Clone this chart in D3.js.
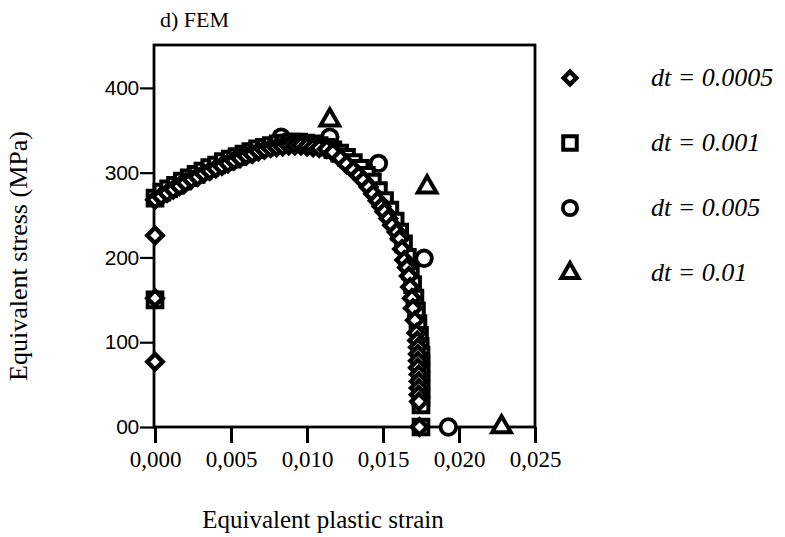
<!DOCTYPE html>
<html>
<head>
<meta charset="utf-8">
<script src="https://cdn.jsdelivr.net/npm/d3@7"></script>
<style>
  body { margin: 0; background: #fff; }
  svg { display: block; }
</style>
</head>
<body>
<svg id="chart" width="785" height="537"></svg>
<script>
const SERIF = "'Liberation Serif', 'Times New Roman', serif";

// dt = 0.0005 (diamonds), strain / stress pairs
const dt0005Strain = [0, 0, 0, 0,
  0.0004, 0.0008, 0.0012, 0.0016, 0.0020, 0.0024, 0.0028, 0.0032, 0.0036, 0.0040,
  0.0044, 0.0048, 0.0052, 0.0056, 0.0060, 0.0064, 0.0068, 0.0072, 0.0076, 0.0080,
  0.0084, 0.0088, 0.0092, 0.0096, 0.0100, 0.0104, 0.0108, 0.0113, 0.0117, 0.0122,
  0.0126, 0.01305, 0.0134, 0.0137, 0.01405, 0.01435, 0.01465, 0.0149, 0.0151, 0.01535,
  0.0156, 0.0159, 0.0161, 0.01625, 0.0164, 0.01658, 0.0167, 0.01678, 0.0169, 0.01697,
  0.0171, 0.0172, 0.01725, 0.0173, 0.0173, 0.0173, 0.0173, 0.01735, 0.01735, 0.01735,
  0.01735, 0.01737, 0.0174];
const dt0005Stress = [77, 152, 226, 268,
  272, 276, 280, 284, 288, 292, 295, 299, 302, 305,
  308, 311, 314, 317, 320, 322, 325, 327, 329, 330,
  331, 332, 332, 332, 331, 330, 329, 328, 324, 317,
  310, 303, 297, 291, 283, 275, 267, 260, 254, 246,
  238, 230, 222, 210, 197, 188, 178, 165, 152, 140,
  126, 111, 102, 94, 86, 78, 70, 62, 54, 46,
  38, 30, 0];

// dt = 0.001 (squares)
const dt001Strain = [0, 0,
  0.00045, 0.0009, 0.00135, 0.0018, 0.00225, 0.0027, 0.00315, 0.0036, 0.00405, 0.0045,
  0.00495, 0.0054, 0.00585, 0.0063, 0.00675, 0.0072, 0.00765, 0.0081, 0.00855, 0.0090,
  0.00945, 0.0099, 0.01035, 0.0108, 0.01125, 0.0117, 0.01215, 0.0126, 0.01305, 0.0135,
  0.0139, 0.0143, 0.0147, 0.0151, 0.01545, 0.0158, 0.0161, 0.01635, 0.0166, 0.0168,
  0.01695, 0.0171, 0.0172, 0.0173, 0.0174, 0.01745, 0.0175, 0.0175, 0.0175, 0.0175,
  0.0175, 0.0175, 0.0175, 0.0175];
const dt001Stress = [150, 270,
  277, 281, 285, 290, 294, 298, 302, 306, 309, 313,
  316, 319, 322, 325, 328, 330, 332, 334, 335, 336,
  336, 335, 334, 332, 330, 327, 323, 318, 312, 305,
  297, 289, 279, 267, 256, 243, 230, 216, 200, 184,
  168, 152, 137, 122, 108, 95, 85, 75, 65, 55,
  45, 35, 26, 0];

// dt = 0.005 (circles)
const dt005Strain = [0.0083, 0.0115, 0.0147, 0.0177, 0.0193];
const dt005Stress = [342, 342, 311, 199, 0];

// dt = 0.01 (triangles)
const dt01Strain = [0.0115, 0.0179, 0.0228];
const dt01Stress = [362, 283, 0];

const xTicks = [0, 0.005, 0.010, 0.015, 0.020, 0.025];
const yTicks = [0, 100, 200, 300, 400];
const legendLabels = ["dt = 0.0005", "dt = 0.001", "dt = 0.005", "dt = 0.01"];

const svg = d3.select("#chart");
const frame = { left: 154, right: 535, top: 45, bottom: 427 };

const x = d3.scaleLinear().domain([0, 0.025]).range([155, 535]);
const y = d3.scaleLinear().domain([0, 450]).range([427, 45.5]);

const comma = d3.formatLocale({ decimal: ",", thousands: ".", grouping: [3], currency: ["", ""] });

// marker shapes
const shapes = {
  diamond: { type: d3.symbolSquare, size: 118, rotate: 45, sw: 4.4 },
  square: { type: d3.symbolSquare, size: 215, rotate: 0, sw: 4 },
  circle: { type: d3.symbolCircle, size: 190, rotate: 0, sw: 3.8 },
  triangle: { type: d3.symbolTriangle, size: 150, rotate: 0, sw: 4 }
};

function drawSeries(xs, ys, shape) {
  const s = shapes[shape];
  const pts = xs.map((d, i) => ({ sx: d, sy: ys[i] }));
  svg.append("g")
    .selectAll("path")
    .data(pts)
    .enter()
    .append("path")
    .attr("d", d3.symbol().type(s.type).size(s.size))
    .attr("transform", d => `translate(${x(d.sx)},${y(d.sy)}) rotate(${s.rotate})`)
    .attr("fill", "#fff")
    .attr("stroke", "#000")
    .attr("stroke-width", s.sw)
    .attr("stroke-linejoin", "miter");
}

// frame
svg.append("rect")
  .attr("x", frame.left).attr("y", frame.top)
  .attr("width", frame.right - frame.left).attr("height", frame.bottom - frame.top)
  .attr("fill", "none").attr("stroke", "#000").attr("stroke-width", 2.8);

// axes
const yAxis = d3.axisLeft(y).tickValues(yTicks).tickSize(14).tickPadding(1)
  .tickFormat(d => d === 0 ? "00" : d);
const xAxis = d3.axisBottom(x).tickValues(xTicks).tickSize(16).tickPadding(8)
  .tickFormat(comma.format(".3f"));

const gy = svg.append("g").attr("transform", `translate(${frame.left},0)`).call(yAxis);
gy.select(".domain").remove();
gy.selectAll("line").attr("stroke-width", 2.2);
gy.selectAll("text")
  .style("font-family", "'Liberation Sans', Arial, sans-serif")
  .style("font-size", "21px")
  .attr("fill", "#000").attr("letter-spacing", -0.3);

const gx = svg.append("g").attr("transform", `translate(0,${frame.bottom})`).call(xAxis);
gx.select(".domain").remove();
gx.selectAll("line").attr("stroke-width", 3);
gx.selectAll("text")
  .style("font-family", SERIF)
  .style("font-size", "23px")
  .attr("fill", "#000");

// data series: largest dt underneath
drawSeries(dt01Strain, dt01Stress, "triangle");
drawSeries(dt005Strain, dt005Stress, "circle");
drawSeries(dt001Strain, dt001Stress, "square");
drawSeries(dt0005Strain, dt0005Stress, "diamond");

// title and axis titles
svg.append("text").style("font-family", SERIF).attr("x", 160).attr("y", 27)
  .attr("font-size", 22).text("d) FEM");

svg.append("text").style("font-family", SERIF)
  .attr("transform", "translate(27,256) rotate(-90)")
  .attr("text-anchor", "middle").attr("font-size", 26)
  .text("Equivalent stress (MPa)");

svg.append("text").style("font-family", SERIF)
  .attr("x", 323).attr("y", 528).attr("text-anchor", "middle")
  .attr("font-size", 25).text("Equivalent plastic strain");

// legend
const legendShapes = ["diamond", "square", "circle", "triangle"];
const legendY = d3.scalePoint().domain(legendLabels).range([78, 273]);
const lg = svg.append("g");
legendLabels.forEach((lab, i) => {
  const s = shapes[legendShapes[i]];
  lg.append("path")
    .attr("d", d3.symbol().type(s.type).size(legendShapes[i] === "diamond" ? 80 : s.size * 0.85))
    .attr("transform", `translate(570,${legendY(lab)}) rotate(${s.rotate})`)
    .attr("fill", "#fff").attr("stroke", "#000").attr("stroke-width", s.sw);
  lg.append("text").style("font-family", SERIF)
    .attr("x", 651).attr("y", legendY(lab) + 8)
    .attr("font-size", 26).attr("font-style", "italic")
    .text(lab);
});
</script>
</body>
</html>
